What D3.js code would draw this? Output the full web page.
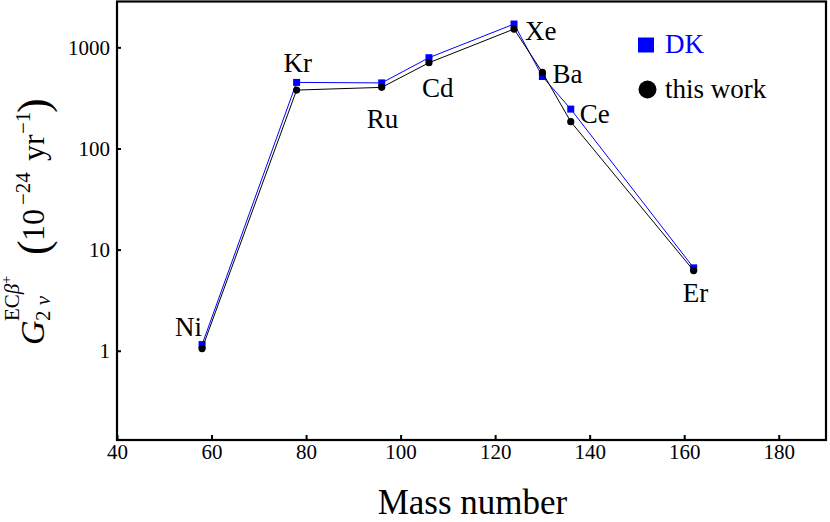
<!DOCTYPE html>
<html>
<head>
<meta charset="utf-8">
<script src="https://cdn.jsdelivr.net/npm/d3@7/dist/d3.min.js"></script>
<style>
  html, body { margin: 0; padding: 0; background: #fff; }
  svg { display: block; font-family: "Liberation Serif", "Times New Roman", serif; }
  svg text { font-family: "Liberation Serif", "Times New Roman", serif !important; }
</style>
</head>
<body>
<svg id="chart" width="830" height="522"></svg>
<script>
// ---- data ----
const nuclei = ["Ni", "Kr", "Ru", "Cd", "Xe", "Ba", "Ce", "Er"];
const massNumber = [58, 78, 96, 106, 124, 130, 136, 162];
const dkValues = [1.15, 450, 445, 790, 1700, 515, 245, 6.6];
const thisWorkValues = [1.05, 378, 402, 704, 1517, 565, 184, 6.2];
const xTicks = [40, 60, 80, 100, 120, 140, 160, 180];
const yTicks = [1, 10, 100, 1000];
const legendLabels = ["DK", "this work"];
// label offsets (pixels) relative to the "this work" point
const labelDx = [-27, -13, -15, -7, 11, 10, 9, -11];
const labelDy = [-13, -18, 41, 34, 11, 11, 1, 31];

const FONT = "'Liberation Serif', 'Times New Roman', serif";
const svg = d3.select("#chart");
const L = 117, R = 826, T = 1.5, B = 440;

const x = d3.scaleLinear().domain([40, 190]).range([L, R]);
const y = d3.scaleLog().domain([0.131, 2840]).range([B, T]);

// axes
const xAxis = d3.axisBottom(x).tickValues(xTicks).tickSize(-5).tickPadding(4).tickFormat(d3.format("d"));
const yAxis = d3.axisLeft(y).tickValues(yTicks).tickSize(-4).tickPadding(7).tickFormat(d3.format("d"));

const gx = svg.append("g").attr("transform", `translate(0,${B})`).call(xAxis);
const gy = svg.append("g").attr("transform", `translate(${L},0)`).call(yAxis);
[gx, gy].forEach(g => {
  g.attr("font-family", null).style("font-family", FONT);
  g.select(".domain").remove();
  g.selectAll(".tick line").attr("stroke", "#000").attr("stroke-width", 2);
  g.selectAll(".tick text").attr("font-size", 21).style("font-family", FONT).attr("fill", "#000");
});

// frame
svg.append("rect").attr("x", L).attr("y", T).attr("width", R - L).attr("height", B - T)
  .attr("fill", "none").attr("stroke", "#000").attr("stroke-width", 2.2);

const idx = d3.range(nuclei.length);
const line = vals => d3.line().x(i => x(massNumber[i])).y(i => y(vals[i]))(idx);

// DK series (blue)
svg.append("path").attr("d", line(dkValues)).attr("fill", "none").attr("stroke", "#0000ff").attr("stroke-width", 1);
svg.selectAll(".dk").data(idx).enter().append("rect")
  .attr("x", i => x(massNumber[i]) - 3.5).attr("y", i => y(dkValues[i]) - 3.5)
  .attr("width", 7).attr("height", 7).attr("fill", "#0000ff");

// this work (black)
svg.append("path").attr("d", line(thisWorkValues)).attr("fill", "none").attr("stroke", "#000").attr("stroke-width", 1);
svg.selectAll(".tw").data(idx).enter().append("circle")
  .attr("cx", i => x(massNumber[i])).attr("cy", i => y(thisWorkValues[i]))
  .attr("r", 3.6).attr("fill", "#000");

// nucleus labels
svg.selectAll(".lbl").data(idx).enter().append("text")
  .attr("x", i => x(massNumber[i]) + labelDx[i])
  .attr("y", i => y(thisWorkValues[i]) + labelDy[i])
  .attr("font-size", 27).style("font-family", FONT)
  .text(i => nuclei[i]);

// legend
svg.append("rect").attr("x", 638).attr("y", 37.5).attr("width", 16).attr("height", 15).attr("fill", "#0000ff");
svg.append("text").attr("x", 665).attr("y", 53).attr("font-size", 27).style("font-family", FONT).style("fill", "#0000ff").text(legendLabels[0]);
svg.append("circle").attr("cx", 647.5).attr("cy", 89.5).attr("r", 9).attr("fill", "#000");
svg.append("text").attr("x", 665).attr("y", 98).attr("font-size", 27).style("font-family", FONT).text(legendLabels[1]);

// x axis title
svg.append("text").attr("x", (L + R) / 2 + 1).attr("y", 514).attr("text-anchor", "middle")
  .attr("font-size", 35).style("font-family", FONT).text("Mass number");

// y axis title (rotated)
const gt = svg.append("g").attr("transform", "translate(44,345) rotate(-90)").style("font-family", FONT);
gt.append("text").attr("x", 0).attr("y", 0).attr("font-size", 34).attr("font-style", "italic").text("G");
const sup = gt.append("text").attr("x", 24).attr("y", -25).attr("font-size", 21);
sup.append("tspan").text("EC");
sup.append("tspan").attr("font-style", "italic").text("β");
sup.append("tspan").attr("font-size", 14).attr("dy", -8).text("+");
const sub = gt.append("text").attr("x", 24).attr("y", 6).attr("font-size", 21);
sub.append("tspan").text("2 ");
sub.append("tspan").attr("font-style", "italic").text("ν");
gt.append("text").attr("x", 90).attr("y", 4).attr("font-size", 44).text("(");
gt.append("text").attr("x", 104).attr("y", 0).attr("font-size", 32).text("10");
gt.append("text").attr("x", 140).attr("y", -14).attr("font-size", 21).text("−24");
gt.append("text").attr("x", 184).attr("y", 0).attr("font-size", 32).text("yr");
gt.append("text").attr("x", 211).attr("y", -14).attr("font-size", 21).text("−1");
gt.append("text").attr("x", 232).attr("y", 4).attr("font-size", 44).text(")");
</script>
</body>
</html>
